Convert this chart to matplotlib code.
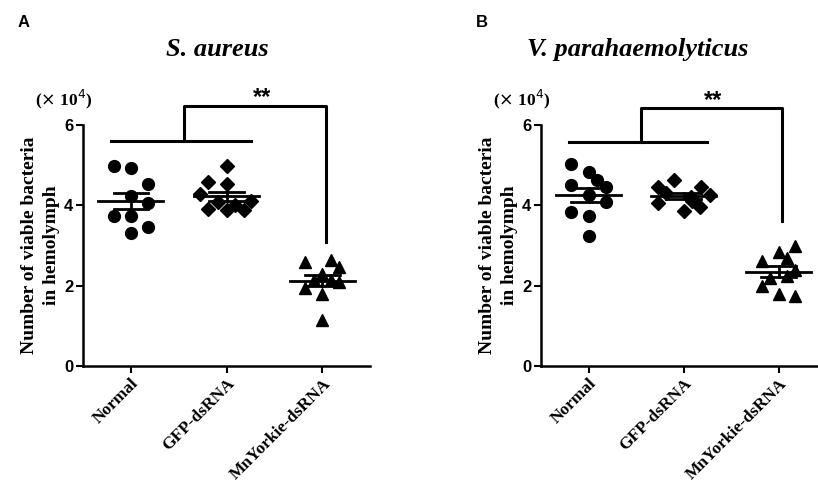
import numpy as np
import matplotlib
matplotlib.use('Agg')
from matplotlib import pyplot as plt

groups = ['Normal', 'GFP-dsRNA', 'MnYorkie-dsRNA']
markers = ['o', 'D', '^']

# viable bacteria counts (x 10^4) per shrimp
sa_normal = [4.98, 4.92, 4.52, 4.23, 4.05, 3.73, 3.73, 3.47, 3.30]
sa_gfp = [4.98, 4.58, 4.54, 4.28, 3.92, 4.09, 3.88, 4.00, 3.88, 4.10]
sa_yorkie = [2.59, 2.65, 2.47, 2.30, 2.14, 2.15, 2.10, 1.93, 1.79, 1.14]

vp_normal = [5.03, 4.84, 4.63, 4.50, 4.46, 4.25, 4.08, 3.83, 3.73, 3.23]
vp_gfp = [4.62, 4.45, 4.45, 4.30, 4.20, 4.25, 4.05, 3.86, 3.95, 4.10]
vp_yorkie = [2.98, 2.83, 2.61, 2.70, 2.40, 2.20, 2.25, 1.98, 1.78, 1.75]

# horizontal scatter so points don't sit on top of each other
sa_jit = [[-0.18, 0, 0.18, 0, 0.18, -0.18, 0, 0.18, 0],
          [0, -0.19, 0, -0.28, -0.19, -0.09, 0, 0.09, 0.18, 0.26],
          [-0.18, 0.09, 0.17, 0, -0.09, 0.09, 0.17, -0.18, 0, 0]]
vp_jit = [[-0.18, 0, 0.09, -0.18, 0.18, 0, 0.18, -0.18, 0, 0],
          [-0.1, -0.27, 0.18, -0.19, 0.08, 0.28, -0.27, 0, 0.17, 0.09],
          [0.17, 0, -0.17, 0.09, 0.17, -0.09, 0.09, -0.17, 0, 0.17]]

panels = [
    ('A', 'S. aureus', [sa_normal, sa_gfp, sa_yorkie], sa_jit,
     [0.1015, 0.2606, 0.351, 0.487], (5.61, 6.47, 3.08), (1.37, 6.68), 0.266),
    ('B', 'V. parahaemolyticus', [vp_normal, vp_gfp, vp_yorkie], vp_jit,
     [0.6614, 0.2606, 0.3485, 0.487], (5.57, 6.42, 3.60), (1.31, 6.62), 0.779),
]

serif = 'Liberation Serif'
sans = 'Liberation Sans'

fig = plt.figure(figsize=(8.18, 4.95), dpi=100)

for letter, title, data, jit, rect, bracket, star, title_x in panels:
    ax = fig.add_axes(rect)
    for i, vals in enumerate(data):
        vals = np.array(vals)
        xs = i + np.array(jit[i])
        ax.plot(xs, vals, linestyle='none', marker=markers[i], color='black',
                markersize=8.5 if markers[i] != 'D' else 7.5, clip_on=False, zorder=3)
        m = vals.mean()
        sem = vals.std(ddof=1) / np.sqrt(len(vals))
        ax.plot([i - 0.34, i + 0.34], [m, m], color='black', lw=2, zorder=4)
        ax.plot([i - 0.18, i + 0.18], [m + sem, m + sem], color='black', lw=2, zorder=4)
        ax.plot([i - 0.18, i + 0.18], [m - sem, m - sem], color='black', lw=2, zorder=4)
        ax.plot([i, i], [m - sem, m + sem], color='black', lw=2, zorder=4)

    low, high, drop = bracket
    ax.plot([-0.21, 1.25], [low, low], color='black', lw=2.2, clip_on=False)
    ax.plot([0.55, 0.55, 2.04, 2.04], [low, high, high, drop],
            color='black', lw=2.2, clip_on=False)
    ax.text(star[0], star[1], '**', ha='center', va='center', fontsize=17,
            fontweight='bold', family=sans)

    ax.set_xlim(-0.5, 2.5)
    ax.set_ylim(0, 6)
    ax.set_yticks([0, 2, 4, 6])
    ax.set_xticks(range(3))
    ax.set_xticklabels(groups, rotation=45, ha='right', rotation_mode='anchor',
                       family=serif, fontweight='bold', fontsize=12.5)
    for lab in ax.get_yticklabels():
        lab.set_family(sans)
        lab.set_fontweight('bold')
        lab.set_fontsize(12)
    ax.tick_params(width=1.5, length=5, direction='out', pad=2)
    ax.spines['top'].set_visible(False)
    ax.spines['right'].set_visible(False)
    ax.spines['left'].set_linewidth(1.8)
    ax.spines['bottom'].set_linewidth(1.8)
    ax.spines['bottom'].set_clip_on(False)

    ax.set_ylabel('Number of viable bacteria\nin hemolymph', family=serif,
                  fontweight='bold', fontsize=14, labelpad=3, linespacing=1.35)

    x0 = rect[0]
    fig.text(x0 - 0.059, 0.80, r'($\times$ 10$^4$)', family=serif, fontweight='bold',
             fontsize=12.5, ha='left', va='center')
    fig.text(x0 - 0.08, 0.955, letter, family=sans, fontweight='bold', fontsize=12,
             ha='left', va='center')
    fig.text(title_x, 0.90, title, family=serif, fontweight='bold', style='italic',
             fontsize=19, ha='center', va='center')

fig.savefig('out.png', dpi=100)
